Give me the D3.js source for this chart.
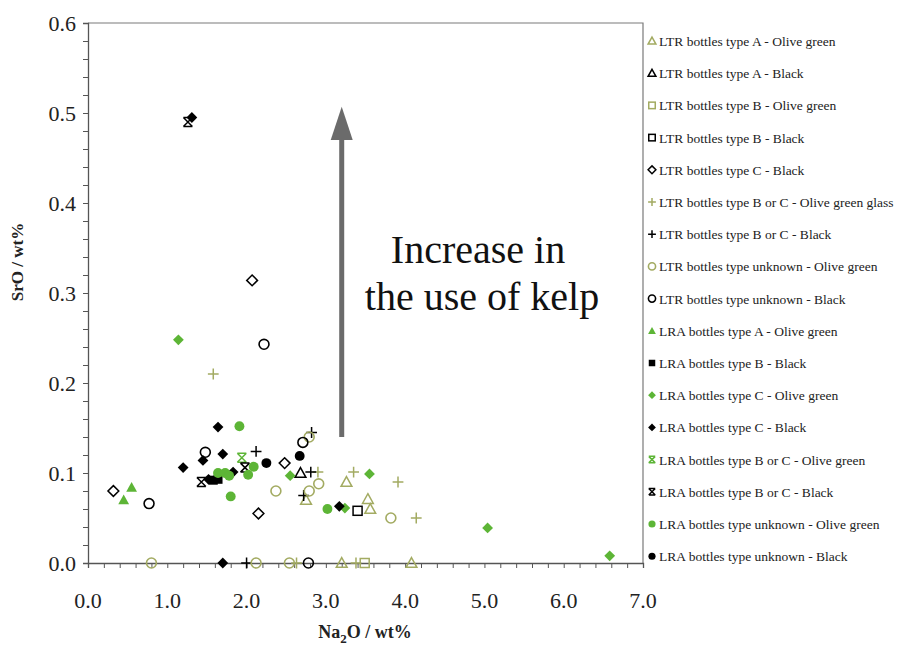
<!DOCTYPE html>
<html>
<head>
<meta charset="utf-8">
<script src="https://cdn.jsdelivr.net/npm/d3@7"></script>
<style>
  html, body { margin: 0; padding: 0; background: #fff; }
  svg { display: block; font-family: "Liberation Serif", "Times New Roman", serif; }
</style>
</head>
<body>
<svg id="chart" width="899" height="645"></svg>
<script>
// Na2O (x) vs SrO (y), both in wt%
const ltrA_olive   = [[2.75,0.070],[3.26,0.090],[3.53,0.071],[3.56,0.060],[3.20,0],[4.08,0]];
const ltrA_black   = [[2.68,0.100]];
const ltrB_olive   = [[3.49,0]];
const ltrB_black   = [[3.40,0.058]];
const ltrC_black   = [[0.32,0.080],[2.07,0.314],[2.15,0.055],[2.48,0.111]];
const ltrBC_olive  = [[1.58,0.210],[2.90,0.101],[3.35,0.101],[3.91,0.090],[4.14,0.050],[2.63,0],[3.38,0]];
const ltrBC_black  = [[2.12,0.124],[2.82,0.145],[2.81,0.101],[2.72,0.075],[2.00,0]];
const ltrU_olive   = [[2.37,0.080],[2.79,0.080],[2.91,0.088],[2.79,0.140],[3.82,0.050],[0.80,0],[2.12,0],[2.54,0]];
const ltrU_black   = [[2.22,0.243],[1.48,0.123],[2.71,0.134],[0.77,0.066],[2.78,0]];
const lraA_olive   = [[0.45,0.070],[0.55,0.084]];
const lraB_black   = [[1.58,0.092],[1.64,0.093]];
const lraC_olive   = [[1.14,0.248],[2.55,0.097],[3.55,0.099],[3.24,0.061],[5.04,0.039],[6.58,0.008]];
const lraC_black   = [[1.31,0.495],[1.64,0.151],[1.45,0.114],[1.70,0.121],[1.20,0.106],[1.83,0.101],[1.52,0.093],[3.17,0.063],[1.70,0]];
const lraBC_olive  = [[1.94,0.117]];
const lraBC_black  = [[1.26,0.490],[1.98,0.106],[1.43,0.090]];
const lraU_olive   = [[1.91,0.152],[1.64,0.100],[1.73,0.100],[1.78,0.097],[2.02,0.098],[2.09,0.107],[1.80,0.074],[3.02,0.060]];
const lraU_black   = [[2.25,0.111],[2.67,0.119]];

const seriesNames = [
  "LTR bottles type A - Olive green",
  "LTR bottles type A - Black",
  "LTR bottles type B - Olive green",
  "LTR bottles type B - Black",
  "LTR bottles type C - Black",
  "LTR bottles type B or C - Olive green glass",
  "LTR bottles type B or C - Black",
  "LTR bottles type unknown - Olive green",
  "LTR bottles type unknown - Black",
  "LRA bottles type A - Olive green",
  "LRA bottles type B - Black",
  "LRA bottles type C - Olive green",
  "LRA bottles type C - Black",
  "LRA bottles type B or C - Olive green",
  "LRA bottles type B or C - Black",
  "LRA bottles type unknown - Olive green",
  "LRA bottles type unknown - Black"
];
const seriesData = [ltrA_olive, ltrA_black, ltrB_olive, ltrB_black, ltrC_black, ltrBC_olive, ltrBC_black,
  ltrU_olive, ltrU_black, lraA_olive, lraB_black, lraC_olive, lraC_black, lraBC_olive, lraBC_black,
  lraU_olive, lraU_black];

const xTicks = [0, 1, 2, 3, 4, 5, 6, 7];
const yTicks = [0, 0.1, 0.2, 0.3, 0.4, 0.5, 0.6];

// marker style per series: shape, colour, filled
const OLIVE = "#a3ab62", GREEN = "#5db536", BLACK = "#000";
const styles = [
  ["triangle", OLIVE, false], ["triangle", BLACK, false],
  ["square", OLIVE, false],   ["square", BLACK, false],
  ["diamond", BLACK, false],
  ["plus", OLIVE, false],     ["plus", BLACK, false],
  ["circle", OLIVE, false],   ["circle", BLACK, false],
  ["triangle", GREEN, true],  ["square", BLACK, true],
  ["diamond", GREEN, true],   ["diamond", BLACK, true],
  ["hourglass", GREEN, false],["hourglass", BLACK, false],
  ["circle", GREEN, true],    ["circle", BLACK, true]
];
const series = seriesNames.map((name, i) => ({
  name, points: seriesData[i], shape: styles[i][0], color: styles[i][1], filled: styles[i][2]
}));

const svg = d3.select("#chart");
const margin = { left: 88, right: 256, top: 23, bottom: 82 };
const W = 899, H = 645;
const x = d3.scaleLinear().domain([0, 7]).range([margin.left, W - margin.right]);
const y = d3.scaleLinear().domain([0, 0.6]).range([H - margin.bottom, margin.top]);

// frame on top and right
svg.append("path")
  .attr("d", `M${x(0)},${y(0.6)}H${x(7)}V${y(0)}`)
  .attr("fill", "none").attr("stroke", "#7a7a7a").attr("stroke-width", 1.2);

// axes
const xAxis = svg.append("g").attr("transform", `translate(0,${y(0)})`)
  .call(d3.axisBottom(x).tickValues(d3.range(0, 7.0001, 0.2)).tickSize(5).tickFormat(""));
const yAxis = svg.append("g").attr("transform", `translate(${x(0)},0)`)
  .call(d3.axisLeft(y).tickValues(d3.range(0, 0.6001, 0.02)).tickSize(5).tickFormat(""));
[xAxis, yAxis].forEach(g => {
  g.select(".domain").attr("stroke", "#555").attr("stroke-width", 1.3);
  g.selectAll(".tick line").attr("stroke", "#555").attr("stroke-width", 1);
});

svg.append("g").selectAll("text").data(xTicks).join("text")
  .attr("x", d => x(d)).attr("y", y(0) + 45)
  .attr("text-anchor", "middle").attr("font-size", 22).attr("fill", "#222")
  .text(d => d.toFixed(1));
svg.append("g").selectAll("text").data(yTicks).join("text")
  .attr("x", x(0) - 12).attr("y", d => y(d) + 7.5)
  .attr("text-anchor", "end").attr("font-size", 22).attr("fill", "#222")
  .text(d => d.toFixed(1));

// axis titles
const xt = svg.append("text")
  .attr("x", 365).attr("y", 638)
  .attr("text-anchor", "middle").attr("font-size", 18).attr("font-weight", "bold").attr("fill", "#222");
xt.append("tspan").text("Na");
xt.append("tspan").attr("font-size", 13).attr("dy", 5).text("2");
xt.append("tspan").attr("dy", -5).text("O / wt%");
svg.append("text")
  .attr("transform", `translate(23,262) rotate(-90)`)
  .attr("text-anchor", "middle").attr("font-size", 17).attr("font-weight", "bold").attr("fill", "#222")
  .text("SrO / wt%");

// kelp arrow
const arrowX = x(3.2);
svg.append("line")
  .attr("x1", arrowX).attr("x2", arrowX).attr("y1", y(0.14)).attr("y2", y(0.475))
  .attr("stroke", "#6b6b6b").attr("stroke-width", 5);
svg.append("path")
  .attr("d", `M${arrowX},${y(0.507)}L${arrowX - 11},${y(0.47)}L${arrowX + 11},${y(0.47)}Z`)
  .attr("fill", "#6b6b6b");
svg.append("text").attr("x", 478).attr("y", 263).attr("text-anchor", "middle")
  .attr("font-size", 40).attr("fill", "#111").text("Increase in");
svg.append("text").attr("x", 482).attr("y", 310).attr("text-anchor", "middle")
  .attr("font-size", 40).attr("fill", "#111").text("the use of kelp");

// marker drawing
function drawMarker(g, shape, color, filled, s) {
  const sw = filled ? 0 : 1.5;
  const fill = filled ? color : "none";
  switch (shape) {
    case "circle":
      g.append("circle").attr("r", s * 0.55).attr("fill", filled ? color : "#fff")
        .attr("fill-opacity", filled ? 1 : 0).attr("stroke", color).attr("stroke-width", filled ? 0 : 1.6);
      break;
    case "square":
      g.append("rect").attr("x", -s / 2).attr("y", -s / 2).attr("width", s).attr("height", s)
        .attr("fill", fill).attr("stroke", color).attr("stroke-width", sw);
      break;
    case "diamond": {
      const r = s * 0.6;
      g.append("path").attr("d", `M0,${-r}L${r},0L0,${r}L${-r},0Z`)
        .attr("fill", fill).attr("stroke", color).attr("stroke-width", sw);
      break;
    }
    case "triangle": {
      const r = s * 0.6;
      g.append("path").attr("d", `M0,${-r}L${r},${r * 0.8}L${-r},${r * 0.8}Z`)
        .attr("fill", fill).attr("stroke", color).attr("stroke-width", sw);
      break;
    }
    case "plus": {
      const r = s * 0.6;
      g.append("path").attr("d", `M${-r},0H${r}M0,${-r}V${r}`)
        .attr("stroke", color).attr("stroke-width", 1.5);
      break;
    }
    case "hourglass": {
      const r = s * 0.5;
      g.append("path").attr("d", `M${-r},${-r}L${r},${r}M${r},${-r}L${-r},${r}M${-r},${-r}H${r}M${-r},${r}H${r}`)
        .attr("stroke", color).attr("stroke-width", 1.5);
      break;
    }
  }
}

// points
series.forEach(sr => {
  svg.append("g").selectAll("g").data(sr.points).join("g")
    .attr("transform", d => `translate(${x(d[0])},${y(d[1])})`)
    .each(function () { drawMarker(d3.select(this), sr.shape, sr.color, sr.filled, 9); });
});

// legend
const legend = svg.append("g");
series.forEach((sr, i) => {
  const ly = 41 + i * 32.2;
  const g = legend.append("g").attr("transform", `translate(652,${ly})`);
  drawMarker(g, sr.shape, sr.color, sr.filled, 6.5);
  legend.append("text").attr("x", 659).attr("y", ly + 5)
    .attr("font-size", 13.5).attr("fill", "#222").text(sr.name);
});
</script>
</body>
</html>
